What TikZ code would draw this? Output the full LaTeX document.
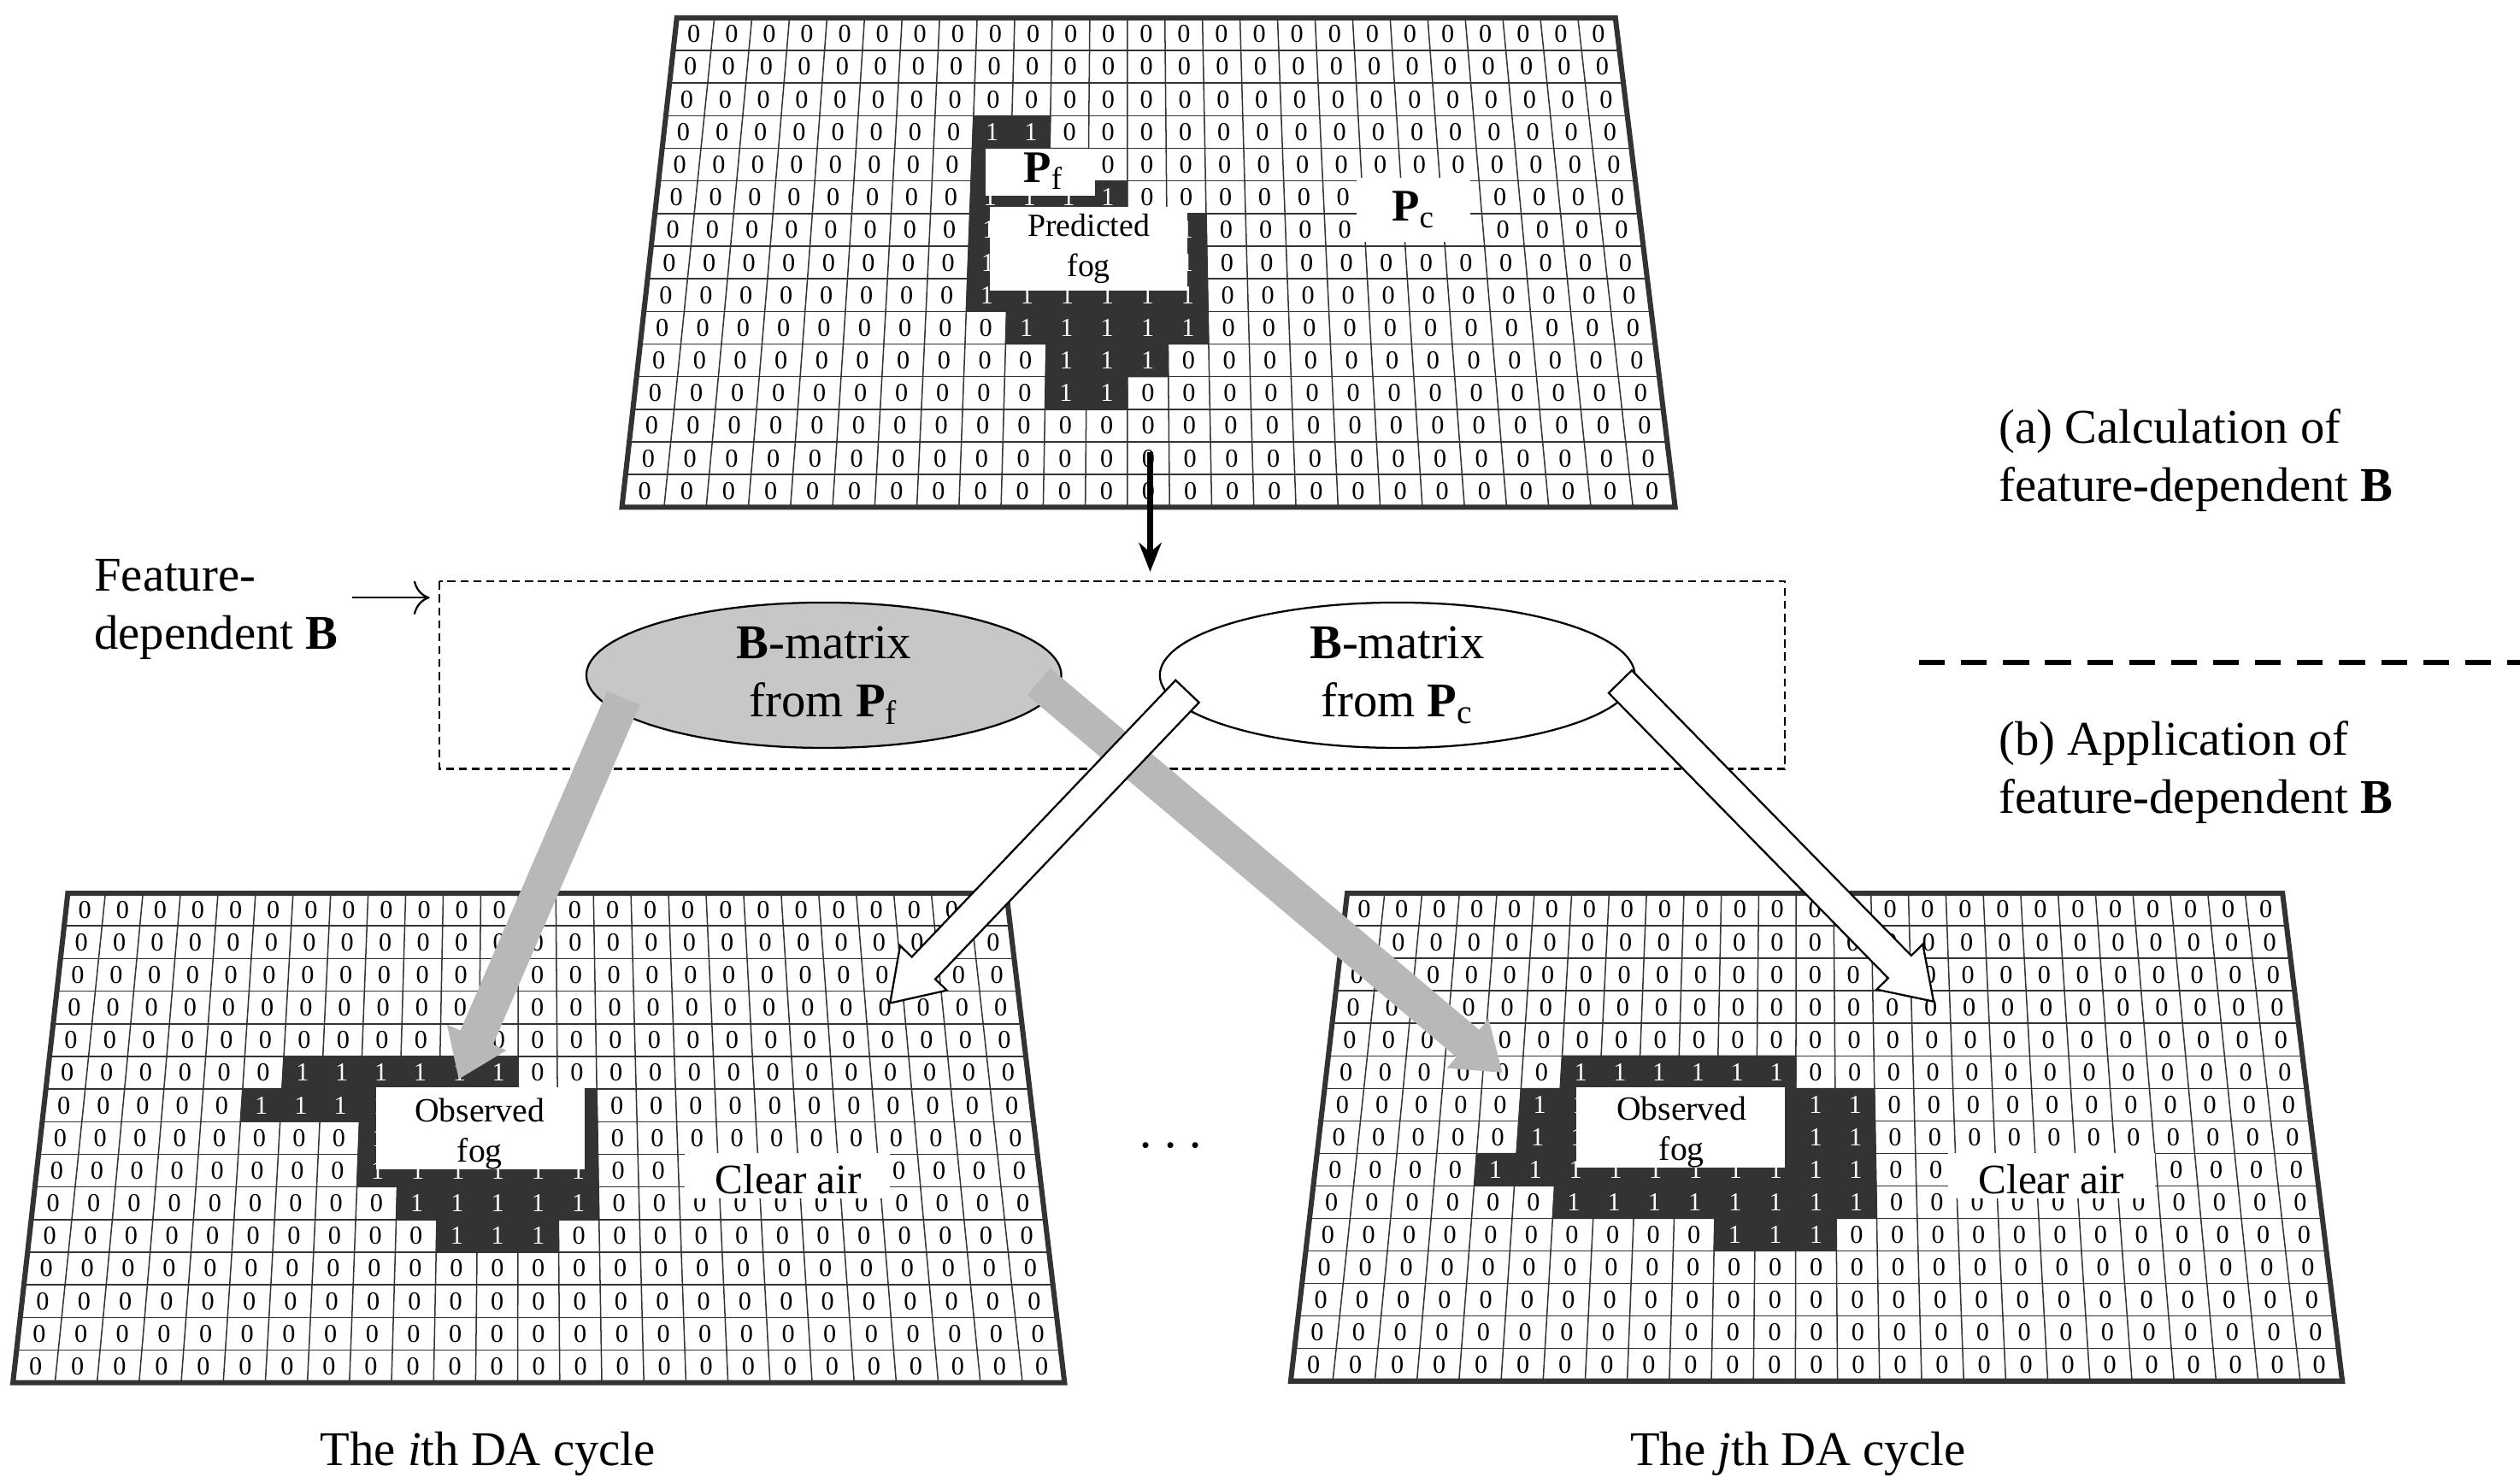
\documentclass[tikz,border=0pt]{standalone}
\usepackage{fontspec}
\setmainfont{Liberation Serif}
\usetikzlibrary{calc,arrows.meta,shapes.geometric}
\tikzset{
  dig/.style={inner sep=0pt,font=\fontsize{8}{8}\selectfont},
  one/.style={inner sep=0pt,text=white,font=\fontsize{8}{8}\selectfont},
  gl/.style={line width=0.4pt,draw=black!80},
  dk/.style={fill=black!80,draw=black!80,line width=0.3pt},
  border/.style={line width=1.6pt,draw=black!80},
  wbox/.style={fill=white,draw=none},
  lbl/.style={font=\fontsize{15}{18}\selectfont,align=left,inner sep=0pt,anchor=north west},
  ell/.style={ellipse,draw=black,line width=0.6pt,minimum width=147pt,minimum height=45pt,align=center,font=\fontsize{15}{18}\selectfont,inner sep=0pt},
  garrow/.style={fill=black!28,draw=none},
  warrow/.style={fill=white,draw=black,line width=0.6pt},
}
\newcommand\drawgrid[2]{%
 \foreach \rr in {1,...,15}{\foreach \cc in {1,...,25}{
   \pgfmathsetmacro\uc{(\cc-0.5)/25}\pgfmathsetmacro\vc{(\rr-0.5)/15}
   \node[dig] at ($($(#1-TL)!\uc!(#1-TR)$)!\vc!($(#1-BL)!\uc!(#1-BR)$)$) {0};}}
 \foreach \k in {1,...,24}{\pgfmathsetmacro\uk{\k/25}
   \draw[gl] ($(#1-TL)!\uk!(#1-TR)$) -- ($(#1-BL)!\uk!(#1-BR)$);}
 \foreach \k in {1,...,14}{\pgfmathsetmacro\vk{\k/15}
   \draw[gl] ($(#1-TL)!\vk!(#1-BL)$) -- ($(#1-TR)!\vk!(#1-BR)$);}
 \foreach \rr/\ca/\cb in {#2}{\foreach \cc in {\ca,...,\cb}{
   \pgfmathsetmacro\ua{(\cc-1)/25}\pgfmathsetmacro\ub{\cc/25}
   \pgfmathsetmacro\va{(\rr-1)/15}\pgfmathsetmacro\vb{\rr/15}
   \pgfmathsetmacro\uc{(\cc-0.5)/25}\pgfmathsetmacro\vc{(\rr-0.5)/15}
   \fill[dk] ($($(#1-TL)!\ua!(#1-TR)$)!\va!($(#1-BL)!\ua!(#1-BR)$)$)
      -- ($($(#1-TL)!\ub!(#1-TR)$)!\va!($(#1-BL)!\ub!(#1-BR)$)$)
      -- ($($(#1-TL)!\ub!(#1-TR)$)!\vb!($(#1-BL)!\ub!(#1-BR)$)$)
      -- ($($(#1-TL)!\ua!(#1-TR)$)!\vb!($(#1-BL)!\ua!(#1-BR)$)$) -- cycle;
   \node[one] at ($($(#1-TL)!\uc!(#1-TR)$)!\vc!($(#1-BL)!\uc!(#1-BR)$)$) {1};}}
 \draw[border] (#1-TL) -- (#1-TR) -- (#1-BR) -- (#1-BL) -- cycle;
}
% fat arrow: #1 style, #2 start, #3 tip, #4 half shaft, #5 half head, #6 head length
\newcommand\fatarrow[6]{%
 \coordinate (fa-b) at ($(#3)!#6!(#2)$);
 \path[#1] ($(#2)!#4!90:(#3)$) -- ($(fa-b)!#4!90:(#3)$) -- ($(fa-b)!#5!90:(#3)$) -- (#3)
   -- ($(fa-b)!#5!-90:(#3)$) -- ($(fa-b)!#4!-90:(#3)$) -- ($(#2)!#4!-90:(#3)$) -- cycle;
}
\begin{document}
\begin{tikzpicture}[x=0.5pt,y=-0.5pt]
\useasboundingbox (0,0) rectangle (1560,918);
% grids
\coordinate (T-TL) at (419,11); \coordinate (T-TR) at (1000,11);
\coordinate (T-BL) at (385,314); \coordinate (T-BR) at (1037,314);
\coordinate (L-TL) at (42,553); \coordinate (L-TR) at (623,553);
\coordinate (L-BL) at (8,856); \coordinate (L-BR) at (659,856);
\coordinate (R-TL) at (834,553); \coordinate (R-TR) at (1413,553);
\coordinate (R-BL) at (799,855); \coordinate (R-BR) at (1450,855);
\drawgrid{T}{4/9/10,5/9/11,6/9/12,7/9/14,8/9/14,9/9/14,10/10/14,11/11/13,12/11/12}
\drawgrid{L}{6/7/12,7/6/14,8/9/14,9/9/14,10/10/14,11/11/13}
\drawgrid{R}{6/7/12,7/6/14,8/6/14,9/5/14,10/7/14,11/11/13}
% boxes in top grid
\fill[wbox] (610,92) rectangle (678,121);
\node[font=\fontsize{14}{14}\selectfont\bfseries] (pf) at (646,106) {P\textsubscript{\normalfont f}};
\fill[wbox] (613,128) rectangle (735,180);
\node[align=center,font=\fontsize{10}{12.5}\selectfont] (pfog) at (674,154) {Predicted\\fog};
\fill[wbox] (840,110) rectangle (910,150);
\node[font=\fontsize{14}{14}\selectfont\bfseries] (pc) at (875,130) {P\textsubscript{\normalfont c}};
% boxes in bottom grids
\fill[wbox] (233,673) rectangle (362,724);
\node[align=center,font=\fontsize{10.5}{12.5}\selectfont] (ofl) at (297,702) {Observed\\fog};
\fill[wbox] (424,714) rectangle (551,742);
\node[font=\fontsize{13}{13}\selectfont] (cal) at (488,730) {Clear air};
\fill[wbox] (976,673) rectangle (1105,723);
\node[align=center,font=\fontsize{10.5}{12.5}\selectfont] (ofr) at (1041,701) {Observed\\fog};
\fill[wbox] (1206,714) rectangle (1334,742);
\node[font=\fontsize{13}{13}\selectfont] (car) at (1270,730) {Clear air};
% middle
\coordinate (dstart) at (712,280); \coordinate (dend) at (712,354);
\draw[line width=1.6pt,-{Stealth[length=9pt,width=7pt]}] (dstart) -- (dend);
\draw[dashed,dash pattern=on 2.5pt off 1.5pt,line width=0.6pt] (272,360) rectangle (1105,476);
\node[ell,fill=black!22] (ef) at (510,418) {\textbf{B}-matrix\\from \textbf{P}\textsubscript{f}};
\node[ell,fill=white] (ec) at (865,418) {\textbf{B}-matrix\\from \textbf{P}\textsubscript{c}};
\node[lbl] (feat) at (58,346) {Feature-\\dependent \textbf{B}};
\coordinate (fa1) at (218,370); \coordinate (fa2) at (266,370);
\draw[line width=0.6pt,-{To[length=5pt]}] (fa1) -- (fa2);
% connectors
\coordinate (g1s) at (386,432); \coordinate (g1t) at (284,668);
\coordinate (g2s) at (643,422); \coordinate (g2t) at (930,664);
\coordinate (w1s) at (735,428); \coordinate (w1t) at (551,621);
\coordinate (w2s) at (1003,422); \coordinate (w2t) at (1197,620);
\fatarrow{garrow}{g1s}{g1t}{5.5pt}{10pt}{14pt}
\fatarrow{garrow}{g2s}{g2t}{5.5pt}{10pt}{14pt}
\fatarrow{warrow}{w1s}{w1t}{5pt}{10pt}{15pt}
\fatarrow{warrow}{w2s}{w2t}{5pt}{10pt}{15pt}
% right side labels
\node[lbl] (la) at (1237,253) {(a) Calculation of\\feature-dependent \textbf{B}};
\node[lbl] (lb) at (1237,446) {(b) Application of\\feature-dependent \textbf{B}};
\coordinate (s1) at (1188,410); \coordinate (s2) at (1560,410);
\draw[line width=1.6pt,dash pattern=on 8pt off 5pt] (s1) -- (s2);
\node[font=\fontsize{16}{16}\selectfont] (dots) at (725,710) {$\cdots$};
\node[font=\fontsize{15}{18}\selectfont] (ci) at (302,900) {The \textit{i}th DA cycle};
\node[font=\fontsize{15}{18}\selectfont] (cj) at (1113,900) {The \textit{j}th DA cycle};
\end{tikzpicture}
\end{document}
